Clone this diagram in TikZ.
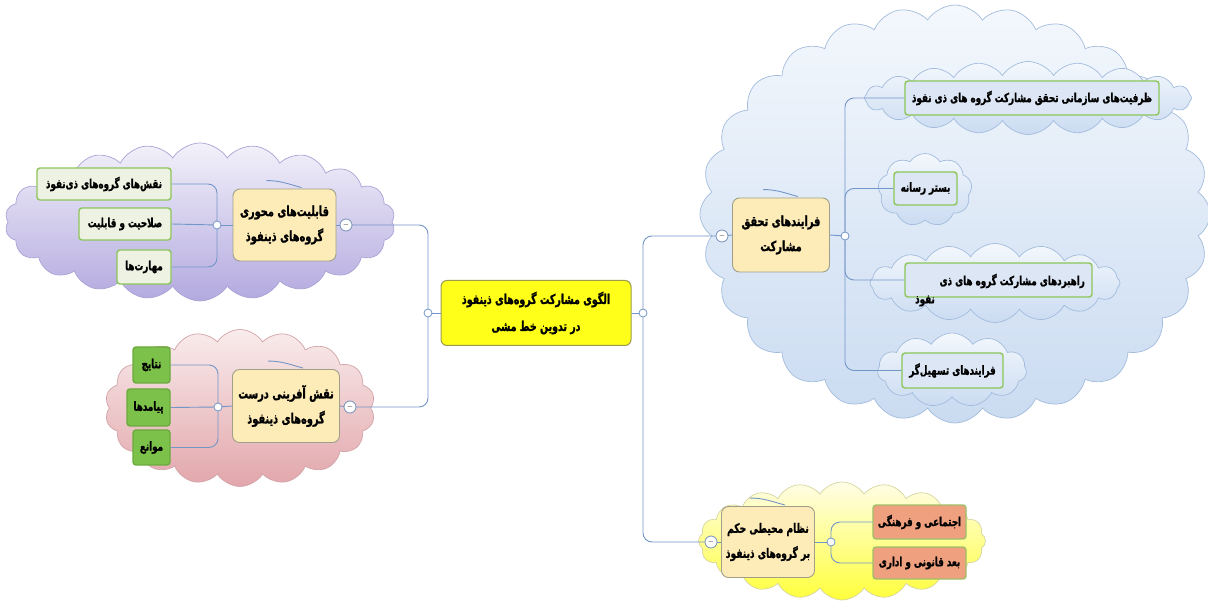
\documentclass[tikz,border=0pt]{standalone}
\usepackage{fontspec}
\usetikzlibrary{shapes.symbols,shapes.misc}
\TeXXeTstate=1
\newfontfamily\perfont[Script=Arabic,FakeStretch=0.7,FakeBold=1.3]{DejaVu Sans}
\newcommand\pr[1]{\beginR #1\endR}
\definecolor{linkblue}{HTML}{7396C8}
\definecolor{mainfill}{HTML}{FDEBB8}
\definecolor{mainedge}{HTML}{A0A08A}
\definecolor{cenfill}{HTML}{FFFF1A}
\definecolor{cenedge}{HTML}{9C9C4C}
\definecolor{leafedge}{HTML}{8CC65A}
\definecolor{leafpale}{HTML}{EEF2E2}
\definecolor{leafblue}{HTML}{DCE6F4}
\definecolor{leafgreen}{HTML}{7CC24A}
\definecolor{leafgreenedge}{HTML}{6BAA3D}
\definecolor{leaforange}{HTML}{EFA07E}
\definecolor{leaforangeedge}{HTML}{9FBF6A}
\definecolor{purtop}{HTML}{F3F1FA}
\definecolor{purbot}{HTML}{B3A9DF}
\definecolor{puredge}{HTML}{A9A4D6}
\definecolor{pinktop}{HTML}{F9ECEC}
\definecolor{pinkbot}{HTML}{E2A6AB}
\definecolor{pinkedge}{HTML}{D2A3A8}
\definecolor{bluetop}{HTML}{F4F8FD}
\definecolor{bluebot}{HTML}{CADBF1}
\definecolor{blueedge}{HTML}{A3BCDD}
\definecolor{yeltop}{HTML}{FFFDE6}
\definecolor{yelbot}{HTML}{FFFF3C}
\definecolor{yeledge}{HTML}{D6D6A0}
\begin{document}
\begin{tikzpicture}[x=1pt,y=-1pt,
  conn/.style={draw=linkblue,line width=0.9pt,rounded corners=9pt},
  cloudbg/.style={cloud,cloud puffs=#1,cloud puff arc=115,line width=0.7pt,inner sep=0pt},
  mainbox/.style={draw=mainedge,fill=mainfill,rounded corners=7pt,line width=0.9pt,
    font=\perfont\bfseries\fontsize{14}{25}\selectfont,align=center,inner sep=2pt},
  cenbox/.style={draw=cenedge,fill=cenfill,rounded corners=6pt,line width=1pt,
    font=\perfont\bfseries\fontsize{13.5}{27}\selectfont,align=center,inner sep=2pt},
  leaf/.style={draw=leafedge,rounded corners=3pt,line width=1.4pt,
    font=\perfont\bfseries\fontsize{12.5}{16}\selectfont,align=center,inner sep=2pt},
  leaftext/.style={font=\perfont\bfseries\fontsize{12.5}{16}\selectfont,inner sep=0pt},
  junc/.style={circle,draw=linkblue,fill=white,line width=0.8pt,minimum size=8pt,inner sep=0pt},
  colps/.style={circle,draw=linkblue!80!gray,fill=white,line width=0.8pt,minimum size=12pt,inner sep=0pt,font=\scriptsize},
  scrib/.style={draw=linkblue,line width=0.9pt}
]
\useasboundingbox (0,0) rectangle (1208,601);
\fill[white] (0,0) rectangle (1208,601);

% background clouds
\node[cloudbg=22,draw=puredge,top color=purtop,bottom color=purbot,minimum width=390pt,minimum height=158pt] (cp) at (200,222) {};
\node[cloudbg=18,draw=pinkedge,top color=pinktop,bottom color=pinkbot,minimum width=270pt,minimum height=157pt] (cr) at (240,408) {};
\node[cloudbg=28,draw=blueedge,top color=bluetop,bottom color=bluebot,minimum width=510pt,minimum height=418pt] (cb) at (955,214) {};
\node[cloudbg=20,draw=yeledge,top color=yeltop,bottom color=yelbot,minimum width=287pt,minimum height=118pt] (cy) at (842,541) {};
% small clouds
\node[cloudbg=20,draw=blueedge,top color=bluetop,bottom color=bluebot,minimum width=327pt,minimum height=73pt] (c1) at (1028,98) {};
\node[cloudbg=9,draw=blueedge,top color=bluetop,bottom color=bluebot,minimum width=94pt,minimum height=73pt] (c2) at (925,190) {};
\node[cloudbg=16,draw=blueedge,top color=bluetop,bottom color=bluebot,minimum width=250pt,minimum height=79pt] (c3) at (995,283) {};
\node[cloudbg=11,draw=blueedge,top color=bluetop,bottom color=bluebot,minimum width=149pt,minimum height=74pt] (c4) at (952,370) {};

% center
\node[cenbox,minimum width=190pt,minimum height=65pt] (cen) at (536,313)
  {\pr{الگوی مشارکت گروه‌های ذینفوذ}\\\pr{در تدوین خط مشی}};

% main topics
\node[mainbox,minimum width=103pt,minimum height=72pt] (mlt) at (284.5,225)
  {\pr{قابلیت‌های محوری}\\\pr{گروه‌های ذینفوذ}};
\node[mainbox,minimum width=107pt,minimum height=73pt] (mlb) at (286,406)
  {\pr{نقش آفرینی درست}\\\pr{گروه‌های ذینفوذ}};
\node[mainbox,minimum width=97pt,minimum height=74pt] (mrt) at (781,235)
  {\pr{فرایندهای تحقق}\\\pr{مشارکت}};
\node[mainbox,font=\perfont\bfseries\fontsize{13}{25}\selectfont,minimum width=93pt,minimum height=71pt] (mrb) at (768,542)
  {\pr{نظام محیطی حکم}\\\pr{بر گروه‌های ذینفوذ}};

% scribbles
\foreach \m in {mlt,mlb,mrt,mrb}
  \draw[scrib] ([xshift=-18pt,yshift=8pt]\m.north) to[out=0,in=165] ([xshift=17pt,yshift=1pt]\m.north);

% leaves left top
\node[leaf,fill=leafpale,minimum width=134pt,minimum height=32pt] (lt1) at (104,184) {\pr{نقش‌های گروه‌های ذی‌نفوذ}};
\node[leaf,fill=leafpale,minimum width=92pt,minimum height=32pt] (lt2) at (125,224) {\pr{صلاحیت و قابلیت}};
\node[leaf,fill=leafpale,minimum width=54pt,minimum height=34pt] (lt3) at (144,267) {\pr{مهارت‌ها}};
% leaves left bottom
\node[leaf,draw=leafgreenedge,fill=leafgreen,minimum width=37pt,minimum height=36pt] (lb1) at (151.5,365) {\pr{نتایج}};
\node[leaf,draw=leafgreenedge,fill=leafgreen,minimum width=43pt,minimum height=37pt] (lb2) at (148.5,407.5) {\pr{پیامدها}};
\node[leaf,draw=leafgreenedge,fill=leafgreen,minimum width=37pt,minimum height=35pt] (lb3) at (151.5,447.5) {\pr{موانع}};
% leaves right top
\node[leaf,fill=leafblue,minimum width=254pt,minimum height=34pt] (rt1) at (1032,98) {\pr{ظرفیت‌های سازمانی تحقق مشارکت گروه های ذی نفوذ}};
\node[leaf,fill=leafblue,minimum width=63pt,minimum height=33pt] (rt2) at (925.5,188.5) {\pr{بستر رسانه}};
\node[leaf,fill=leafblue,minimum width=187pt,minimum height=34pt] (rt3) at (998.5,280) {};
\node[leaftext,anchor=east] (rt3t) at (1085,281) {\pr{راهبردهای مشارکت گروه های ذی}};
\node[leaftext] (rt3b) at (925,301) {\pr{نفوذ}};
\node[leaf,fill=leafblue,minimum width=101pt,minimum height=35pt] (rt4) at (952.5,370.5) {\pr{فرایندهای تسهیل‌گر}};
% leaves right bottom
\node[leaf,draw=leaforangeedge,fill=leaforange,minimum width=93pt,minimum height=34pt] (rb1) at (919.5,522) {\pr{اجتماعی و فرهنگی}};
\node[leaf,draw=leaforangeedge,fill=leaforange,minimum width=93pt,minimum height=32pt] (rb2) at (919.5,563) {\pr{بعد قانونی و اداری}};

% junctions and collapse buttons (coordinates)
\coordinate (pcl) at (428,313);
\coordinate (pcr) at (643,313);
\coordinate (pkl) at (346,225);
\coordinate (pjl) at (217,225);
\coordinate (pkb) at (350,407);
\coordinate (pjb) at (218,407);
\coordinate (pkr) at (722,236);
\coordinate (pjr) at (845,236);
\coordinate (pks) at (711,542);
\coordinate (pjs) at (831,542);

% connectors
\draw[conn] (pcl) |- (pkl);
\draw[conn] (pcl) |- (pkb);
\draw[conn] (pcr) |- (pkr);
\draw[conn] (pcr) |- (pks);
\draw[conn] (cen.west) -- (pcl);
\draw[conn] (cen.east) -- (pcr);
\draw[conn] (pkl) -- (mlt.east);
\draw[conn] (pkb) -- (mlb.east);
\draw[conn] (pkr) -- (mrt.west);
\draw[conn] (pks) -- (mrb.west);
\draw[conn] (mlt.west) -- (pjl);
\draw[conn] (mlb.west) -- (pjb);
\draw[conn] (mrt.east) -- (pjr);
\draw[conn] (mrb.east) -- (pjs);
\draw[conn] (lt1.east) -| (pjl);
\draw[conn] (lt2.east) -- (pjl);
\draw[conn] (lt3.east) -| (pjl);
\draw[conn] (lb1.east) -| (pjb);
\draw[conn] (lb2.east) -- (pjb);
\draw[conn] (lb3.east) -| (pjb);
\draw[conn] (pjr) |- (rt1.west);
\draw[conn] (pjr) |- (rt2.west);
\draw[conn] (pjr) |- (rt3.west);
\draw[conn] (pjr) |- (rt4.west);
\draw[conn] (pjs) |- (rb1.west);
\draw[conn] (pjs) |- (rb2.west);

% circles on top
\node[junc] (jcl) at (pcl) {};
\node[junc] (jcr) at (pcr) {};
\node[junc] (jl) at (pjl) {};
\node[junc] (jb) at (pjb) {};
\node[junc] (jr) at (pjr) {};
\node[junc] (js) at (pjs) {};
\node[colps] (kl) at (pkl) {$-$};
\node[colps] (kb) at (pkb) {$-$};
\node[colps] (kr) at (pkr) {$-$};
\node[colps] (ks) at (pks) {$-$};
\end{tikzpicture}
\end{document}
